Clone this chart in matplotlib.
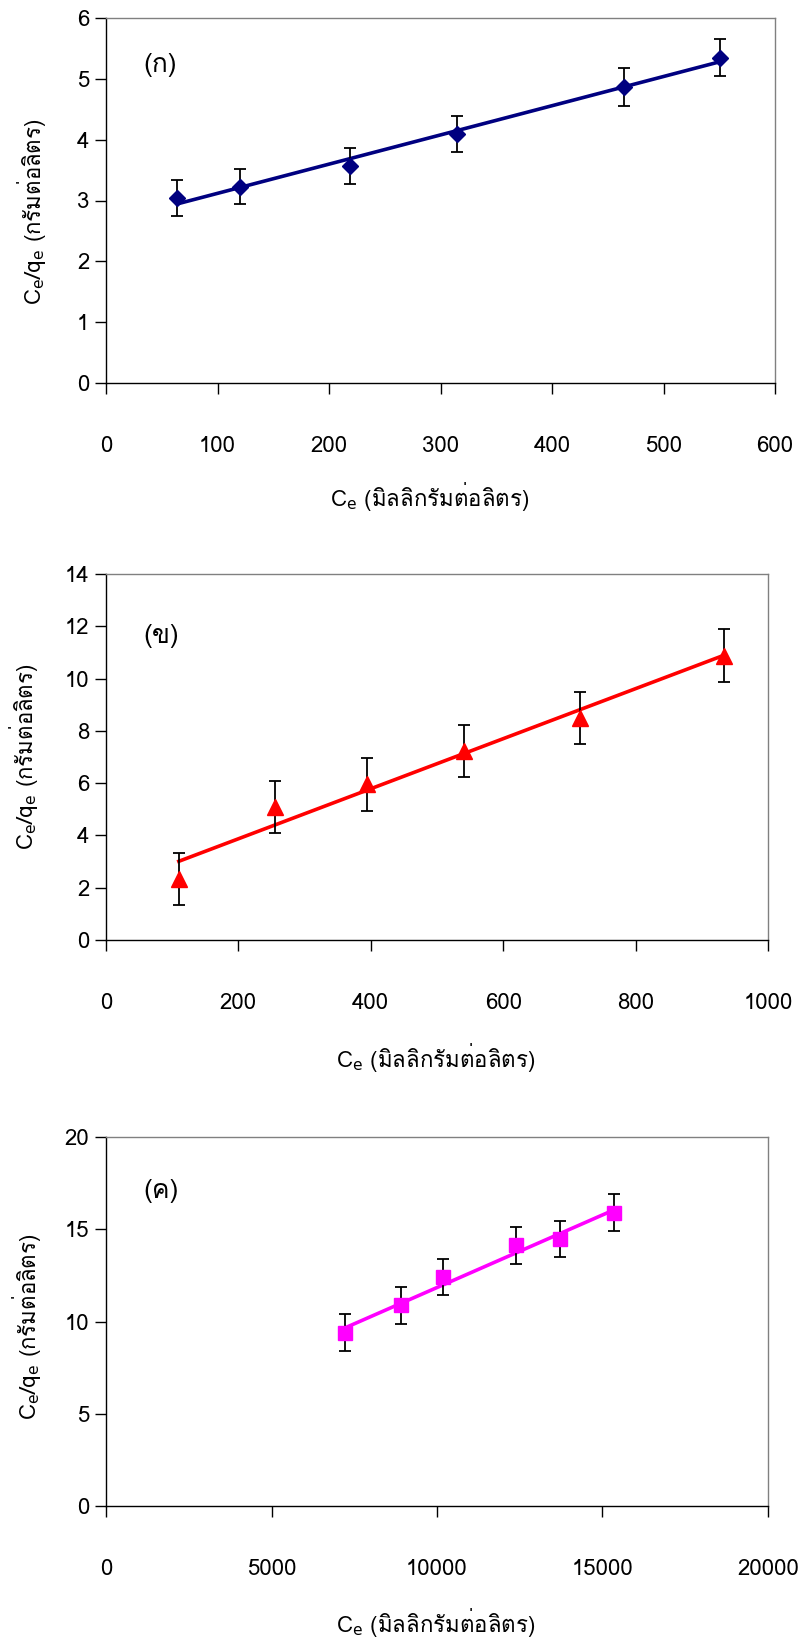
import matplotlib
matplotlib.use("Agg")
import matplotlib.pyplot as plt
import numpy as np
from matplotlib import font_manager
from matplotlib.ft2font import FT2Font

# panel (ก)
ce_a = [64, 120, 219, 315, 465, 551]
y_a = [3.04, 3.23, 3.57, 4.09, 4.87, 5.35]
err_a = [0.30, 0.29, 0.30, 0.30, 0.31, 0.30]

# panel (ข)
ce_b = [110, 255, 394, 541, 716, 934]
y_b = [2.33, 5.09, 5.95, 7.24, 8.49, 10.88]
err_b = [1.0, 1.0, 1.0, 1.0, 1.0, 1.0]

# panel (ค)
ce_c = [7225, 8915, 10170, 12400, 13720, 15350]
y_c = [9.38, 10.88, 12.41, 14.13, 14.47, 15.90]
err_c = [1.0, 1.0, 1.0, 1.0, 1.0, 1.0]

xlabel = r"C$_\mathrm{e}$ (มิลลิกรัมต่อลิตร)"
ylabel = r"C$_\mathrm{e}$/q$_\mathrm{e}$ (กรัมต่อลิตร)"


# look for an installed font that has Thai glyphs
thai_font = None
for f in font_manager.fontManager.ttflist:
    try:
        if 0x0E01 in FT2Font(f.fname).get_charmap():
            thai_font = f.name
            break
    except Exception:
        pass

fams = ["Liberation Sans Narrow"]
if thai_font:
    fams.append(thai_font)
fams.append("DejaVu Sans")
plt.rcParams["font.family"] = fams
plt.rcParams["mathtext.fontset"] = "custom"
plt.rcParams["mathtext.rm"] = "Liberation Sans Narrow"
plt.rcParams["mathtext.it"] = "Liberation Sans Narrow"

W, H = 803, 1641
fig = plt.figure(figsize=(W / 100, H / 100), dpi=100)


def make_ax(left, right, top, bottom):
    return fig.add_axes([left / W, 1 - bottom / H, (right - left) / W, (bottom - top) / H])


panels = [
    dict(box=(106, 775, 18, 383), x=ce_a, y=y_a, e=err_a, color="#000080", marker="D", ms=8.5,
         xlim=(0, 600), xt=np.arange(0, 601, 100), ylim=(0, 6), yt=np.arange(0, 7, 1),
         tag="(ก)", tag_y=0.87, xl=(0.483, -0.31), yl=(-0.112, 0.47)),
    dict(box=(106, 768, 574, 940), x=ce_b, y=y_b, e=err_b, color="#FF0000", marker="^", ms=11,
         xlim=(0, 1000), xt=np.arange(0, 1001, 200), ylim=(0, 14), yt=np.arange(0, 15, 2),
         tag="(ข)", tag_y=0.83, xl=(0.498, -0.32), yl=(-0.125, 0.5)),
    dict(box=(106, 768, 1137, 1506), x=ce_c, y=y_c, e=err_c, color="#FF00FF", marker="s", ms=10,
         xlim=(0, 20000), xt=np.arange(0, 20001, 5000), ylim=(0, 20), yt=np.arange(0, 21, 5),
         tag="(ค)", tag_y=0.855, xl=(0.498, -0.317), yl=(-0.12, 0.486)),
]

for p in panels:
    ax = make_ax(*p["box"])
    x = np.array(p["x"])
    y = np.array(p["y"])
    k, b = np.polyfit(x, y, 1)
    ax.plot([x.min(), x.max()], [k * x.min() + b, k * x.max() + b], color=p["color"], lw=2.6, zorder=2)
    ax.errorbar(x, y, yerr=p["e"], fmt="none", ecolor="black", elinewidth=1.3, capsize=4.5,
                capthick=1.3, zorder=3)
    ax.plot(x, y, ls="none", marker=p["marker"], ms=p["ms"], color=p["color"], zorder=4)

    ax.set_xlim(*p["xlim"])
    ax.set_ylim(*p["ylim"])
    ax.set_xticks(p["xt"])
    ax.set_yticks(p["yt"])
    ax.tick_params(axis="x", direction="out", length=8, width=1, pad=30, labelsize=16)
    ax.tick_params(axis="y", direction="out", length=8, width=1, pad=4, labelsize=16)
    for s in ("top", "right"):
        ax.spines[s].set_color("#808080")
    for s in ("left", "bottom"):
        ax.spines[s].set_color("black")
    for s in ax.spines.values():
        s.set_linewidth(1)

    ax.set_xlabel(xlabel, fontsize=16, va="center", ha="center")
    ax.xaxis.set_label_coords(*p["xl"])
    ax.set_ylabel(ylabel, fontsize=16, va="center", ha="center")
    ax.yaxis.set_label_coords(*p["yl"])
    ax.text(0.056, p["tag_y"], p["tag"], transform=ax.transAxes, fontsize=19, va="center", ha="left")

fig.savefig("out.png", dpi=100)
